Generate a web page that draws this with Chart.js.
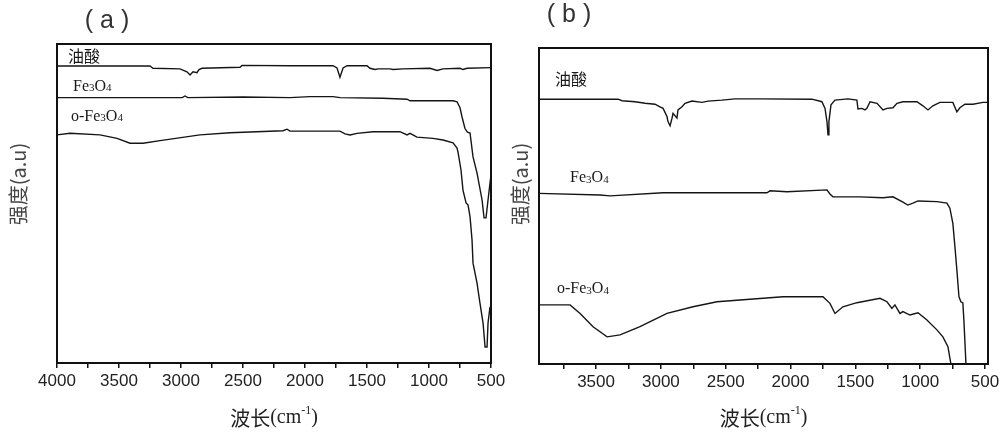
<!DOCTYPE html>
<html>
<head>
<meta charset="utf-8">
<script src="https://cdn.jsdelivr.net/npm/chart.js@4"></script>
<style>
  html, body { margin: 0; padding: 0; background: #fff; }
  #wrap { position: relative; width: 1000px; height: 435px; overflow: hidden; }
  .panel { position: absolute; top: 0; height: 435px; }
</style>
</head>
<body>
<div id="wrap">
  <div class="panel" style="left:0;width:520px"><canvas id="chartA" width="520" height="435"></canvas></div>
  <div class="panel" style="left:500px;width:500px"><canvas id="chartB" width="500" height="435"></canvas></div>
</div>
<script>
// (a) 油酸
const oleicA_wn = [4000, 3250, 3226, 3008, 2952, 2927, 2903, 2871, 2855, 2831, 2524, 2508, 2121, 1774, 1742, 1718, 1693, 1661, 1500, 1476, 1435, 1411, 1314, 1290, 1210, 992, 935, 887, 750, 726, 693, 500];
const oleicA_int = [93.1, 93.1, 92.4, 92.2, 91.3, 90.3, 91.3, 91.0, 92.0, 92.4, 92.7, 93.3, 93.2, 93.2, 92.5, 89.6, 92.5, 93.2, 93.2, 92.4, 92.0, 92.2, 92.2, 92.0, 92.2, 92.4, 91.7, 92.2, 92.4, 92.0, 92.4, 92.6];
// (a) Fe3O4
const feA_wn = [4000, 3300, 2990, 2968, 2945, 2500, 2121, 1960, 1774, 1718, 1371, 1177, 1153, 806, 774, 750, 734, 710, 690, 669, 645, 613, 572, 556, 540, 524, 508, 500];
const feA_int = [83.2, 83.2, 83.2, 83.7, 83.2, 83.4, 83.2, 83.5, 83.5, 83.2, 83.0, 82.7, 82.2, 82.2, 81.9, 80.0, 77.2, 73.5, 72.4, 72.1, 64.6, 59.6, 51.1, 45.5, 45.5, 51.1, 56.4, 59.0];
// (a) o-Fe3O4
const ofeA_wn = [4000, 3895, 3653, 3516, 3411, 3306, 3169, 2847, 2605, 2177, 2145, 2121, 1718, 1677, 1637, 1581, 1452, 1234, 1177, 1153, 1097, 968, 887, 806, 774, 766, 742, 726, 701, 685, 669, 653, 645, 613, 589, 564, 548, 532, 524, 508];
const ofeA_int = [71.5, 72.0, 71.5, 70.4, 68.9, 68.9, 69.7, 71.5, 72.2, 72.8, 73.3, 72.7, 72.7, 71.8, 71.5, 72.0, 72.5, 72.5, 71.5, 72.0, 70.8, 70.4, 69.9, 69.0, 67.4, 66.1, 60.5, 54.2, 50.2, 49.5, 45.8, 38.6, 31.3, 25.1, 18.8, 12.5, 5.0, 5.0, 12.5, 17.6];

// (b) 油酸
const oleicB_wn = [3940, 3330, 3300, 3199, 3122, 3045, 3007, 2983, 2953, 2945, 2929, 2914, 2906, 2876, 2868, 2837, 2814, 2760, 2683, 2636, 2529, 2428, 2236, 1835, 1758, 1734, 1719, 1711, 1704, 1688, 1657, 1557, 1488, 1480, 1449, 1426, 1411, 1387, 1333, 1287, 1256, 1210, 1179, 1133, 1025, 979, 940, 902, 848, 748, 717, 694, 655, 593, 516, 477];
const oleicB_int = [83.8, 83.8, 83.3, 83.0, 82.5, 82.2, 81.4, 80.9, 78.3, 76.7, 75.4, 77.8, 79.3, 77.8, 80.4, 81.4, 82.5, 83.2, 82.8, 83.2, 83.5, 83.9, 83.9, 83.8, 83.0, 80.9, 76.7, 72.5, 76.7, 82.0, 83.5, 83.9, 83.5, 80.7, 80.9, 80.4, 80.9, 83.0, 82.5, 80.4, 80.9, 81.1, 82.5, 83.0, 83.0, 81.7, 80.4, 81.7, 82.8, 82.8, 79.8, 81.1, 82.2, 82.2, 82.8, 82.8];
// (b) Fe3O4
const feB_wn = [3940, 3469, 3392, 2983, 2182, 2158, 2027, 1719, 1696, 1673, 1465, 1287, 1210, 1133, 1095, 1056, 1017, 871, 794, 771, 748, 732, 717, 701, 686, 671, 663, 647];
const feB_int = [54.0, 53.5, 53.2, 54.2, 54.2, 54.8, 54.5, 55.1, 53.8, 52.9, 52.9, 52.6, 52.9, 51.2, 50.3, 50.9, 51.6, 51.4, 50.9, 49.3, 44.5, 37.1, 29.7, 21.3, 19.7, 19.3, 13.9, 0];
// (b) o-Fe3O4
const ofeB_wn = [3940, 3700, 3623, 3523, 3415, 3315, 3161, 2953, 2752, 2567, 2313, 2058, 1750, 1696, 1657, 1596, 1488, 1310, 1256, 1218, 1195, 1156, 1133, 1079, 1017, 948, 871, 825, 786, 763];
const ofeB_int = [18.7, 18.7, 16.0, 11.8, 8.6, 9.2, 11.8, 16.0, 18.1, 19.7, 20.5, 21.3, 21.3, 19.2, 16.0, 18.1, 19.4, 20.8, 19.7, 17.6, 18.7, 16.0, 16.6, 15.5, 16.2, 13.9, 10.8, 8.6, 5.5, 0];

const xTicksA = [500, 750, 1000, 1250, 1500, 1750, 2000, 2250, 2500, 2750, 3000, 3250, 3500, 3750, 4000];
const xTicksB = [500, 750, 1000, 1250, 1500, 1750, 2000, 2250, 2500, 2750, 3000, 3250, 3500, 3750];

const CJK = '"Noto Sans CJK SC", sans-serif';
const SERIF = '"Liberation Serif", "Times New Roman", serif';
const SANS = '"Liberation Sans", Arial, sans-serif';

function pts(xs, ys) {
  return xs.map((x, i) => ({ x: x, y: ys[i] }));
}

function line(xs, ys) {
  return {
    data: pts(xs, ys),
    borderColor: '#151515',
    borderWidth: 1.4,
    pointRadius: 0,
    tension: 0,
    fill: false
  };
}

// 化学式：Fe3O4 下标
function formula(prefix) {
  return [
    { t: prefix + 'Fe', size: 16 },
    { t: '3', size: 11, dy: 2 },
    { t: 'O', size: 16 },
    { t: '4', size: 11, dy: 2 }
  ];
}

function drawRich(ctx, segs, x, y, align) {
  let total = 0;
  segs.forEach(s => {
    ctx.font = s.size + 'px ' + (s.family || SERIF);
    total += ctx.measureText(s.t).width;
  });
  let cx = align === 'center' ? x - total / 2 : x;
  segs.forEach(s => {
    ctx.font = s.size + 'px ' + (s.family || SERIF);
    ctx.fillText(s.t, cx, y + (s.dy || 0));
    cx += ctx.measureText(s.t).width;
  });
}

const panelText = {
  id: 'panelText',
  afterDraw(chart, args, opts) {
    const { ctx, chartArea: a, scales } = chart;
    ctx.save();
    // 边框
    ctx.strokeStyle = '#111';
    ctx.lineWidth = 2;
    ctx.strokeRect(a.left, a.top, a.right - a.left, a.bottom - a.top);

    ctx.fillStyle = '#1a1a1a';
    ctx.textBaseline = 'middle';
    ctx.textAlign = 'left';
    opts.labels.forEach(l => {
      const px = scales.x.getPixelForValue(l.wn);
      const py = scales.y.getPixelForValue(l.v);
      drawRich(ctx, l.segs, px, py, 'left');
    });

    // 面板编号
    ctx.fillStyle = '#333';
    drawRich(ctx, [
      { t: '( ', size: 25, family: SANS },
      { t: opts.tag, size: 25, family: SANS },
      { t: ' )', size: 25, family: SANS }
    ], a.left + opts.tagDx, a.top + opts.tagDy, 'center');

    // x 轴标题
    ctx.fillStyle = '#222';
    drawRich(ctx, [
      { t: '波长', size: 20, family: CJK },
      { t: '(cm', size: 20 },
      { t: '-1', size: 12, dy: -7 },
      { t: ')', size: 20 }
    ], (a.left + a.right) / 2, 418, 'center');

    // y 轴标题
    ctx.translate(a.left - opts.yDx, 184);
    ctx.rotate(-Math.PI / 2);
    ctx.fillStyle = '#444';
    ctx.font = '20px ' + CJK;
    ctx.textAlign = 'center';
    ctx.fillText('强度(a.u)', 0, 0);
    ctx.restore();
  }
};

function makeChart(id, datasets, xMin, xMax, xTicks, pad, axisH, textOpts) {
  return new Chart(document.getElementById(id), {
    type: 'line',
    data: { datasets: datasets },
    options: {
      responsive: false,
      animation: false,
      layout: { padding: pad },
      plugins: {
        legend: { display: false },
        tooltip: { enabled: false },
        panelText: textOpts
      },
      scales: {
        x: {
          type: 'linear',
          reverse: true,
          min: xMin,
          max: xMax,
          afterBuildTicks: s => { s.ticks = xTicks.map(v => ({ value: v })); },
          afterFit: s => { s.height = axisH; },
          border: { display: false },
          grid: { drawOnChartArea: false, drawTicks: true, tickLength: 5, color: '#111', lineWidth: 1.5 },
          ticks: {
            autoSkip: false,
            maxRotation: 0,
            padding: 3,
            color: '#222',
            font: { family: SANS, size: 17 },
            callback: v => (v % 500 === 0 ? String(v) : '')
          }
        },
        y: { display: false, min: 0, max: 100 }
      }
    },
    plugins: [panelText]
  });
}

makeChart('chartA',
  [line(oleicA_wn, oleicA_int), line(feA_wn, feA_int), line(ofeA_wn, ofeA_int)],
  500, 4000, xTicksA,
  { left: 57, right: 29, top: 44, bottom: 0 }, 72,
  {
    tag: 'a', tagDx: 50, tagDy: -23, yDx: 39,
    labels: [
      { wn: 3911, v: 96.2, segs: [{ t: '油酸', size: 16, family: CJK }] },
      { wn: 3871, v: 86.7, segs: formula('') },
      { wn: 3887, v: 77.3, segs: formula('o-') }
    ]
  });

makeChart('chartB',
  [line(oleicB_wn, oleicB_int), line(feB_wn, feB_int), line(ofeB_wn, ofeB_int)],
  477, 3940, xTicksB,
  { left: 39, right: 12, top: 48, bottom: 0 }, 71,
  {
    tag: 'b', tagDx: 30, tagDy: -33, yDx: 19,
    labels: [
      { wn: 3816, v: 90.2, segs: [{ t: '油酸', size: 16, family: CJK }] },
      { wn: 3700, v: 58.9, segs: formula('') },
      { wn: 3801, v: 23.7, segs: formula('o-') }
    ]
  });
</script>
</body>
</html>
